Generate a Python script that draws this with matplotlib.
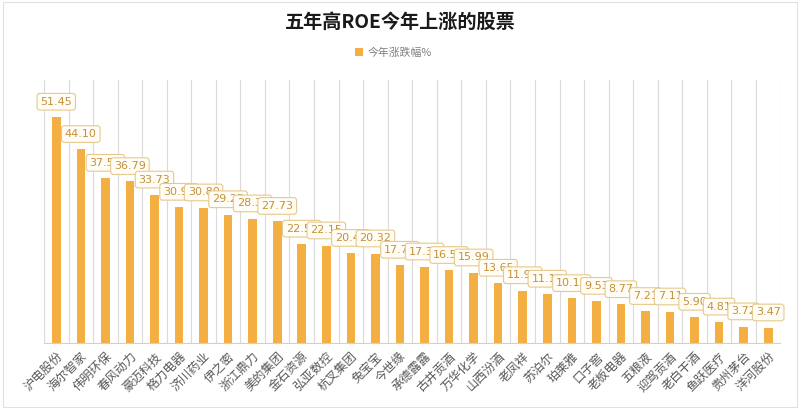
import numpy as np
import matplotlib
matplotlib.use('Agg')
import matplotlib.pyplot as plt
from matplotlib.patches import Rectangle

plt.rcParams['font.family'] = ['Noto Sans CJK SC', 'DejaVu Sans']

# data
names = ['沪电股份', '海尔智家', '伟明环保', '春风动力', '豪迈科技', '格力电器',
         '济川药业', '伊之密', '浙江鼎力', '美的集团', '金石资源', '弘亚数控',
         '杭叉集团', '兔宝宝', '今世缘', '承德露露', '古井贡酒', '万华化学',
         '山西汾酒', '老凤祥', '苏泊尔', '珀莱雅', '口子窖', '老板电器',
         '五粮液', '迎驾贡酒', '老白干酒', '鱼跃医疗', '贵州茅台', '洋河股份']
change = [51.45, 44.10, 37.55, 36.79, 33.73, 30.95, 30.80, 29.25, 28.30, 27.73,
          22.55, 22.15, 20.45, 20.32, 17.75, 17.35, 16.55, 15.99, 13.65, 11.95,
          11.15, 10.15, 9.53, 8.77, 7.21, 7.11, 5.90, 4.81, 3.72, 3.47]

bar_color = '#F4AF43'

fig = plt.figure(figsize=(8, 4.13), dpi=100)
ax = fig.add_axes([0.055, 0.1695, 0.9206, 0.638])

x = np.arange(len(names))
ax.bar(x, change, width=0.35, color=bar_color, zorder=2, label='今年涨跌幅%')

ax.set_xlim(-0.5, len(names) - 0.5)
ax.set_ylim(0, 60)

# vertical separators between categories
for b in np.arange(-0.5, len(names), 1.0):
    ax.axvline(b, color='#DADADA', lw=0.8, zorder=1)

for s in ['top', 'right', 'left']:
    ax.spines[s].set_visible(False)
ax.spines['bottom'].set_color('#D0D0D0')
ax.set_yticks([])
ax.set_xticks(x)
ax.set_xticklabels(names, rotation=45, ha='right', rotation_mode='anchor',
                   fontsize=8.8, color='#595959')
ax.tick_params(axis='x', length=0, pad=5)

# data labels in rounded boxes
for xi, v in zip(x, change):
    ax.annotate(f'{v:.2f}', (xi, v), xytext=(0, 11), textcoords='offset points',
                ha='center', va='center', fontsize=8, color='#C4913A', zorder=3,
                family=['DejaVu Sans'],
                bbox=dict(boxstyle='round,pad=0.3,rounding_size=0.25', fc='#FFFDF5',
                          ec='#E6C98E', lw=0.8))

fig.text(0.5, 0.945, '五年高ROE今年上涨的股票', ha='center', va='center',
         fontsize=13.8, fontweight='bold', color='#1A1A1A')
fig.legend(loc='center', bbox_to_anchor=(0.492, 0.873), frameon=False, fontsize=7.8,
           handlelength=0.7, handleheight=0.7, handletextpad=0.5, labelcolor='#7F7F7F')

fig.patches.append(Rectangle((0.004, 0.015), 0.992, 0.98, transform=fig.transFigure,
                             fill=False, ec='#E0E0E0', lw=0.8))

fig.savefig('out.png', dpi=100, facecolor='white')
